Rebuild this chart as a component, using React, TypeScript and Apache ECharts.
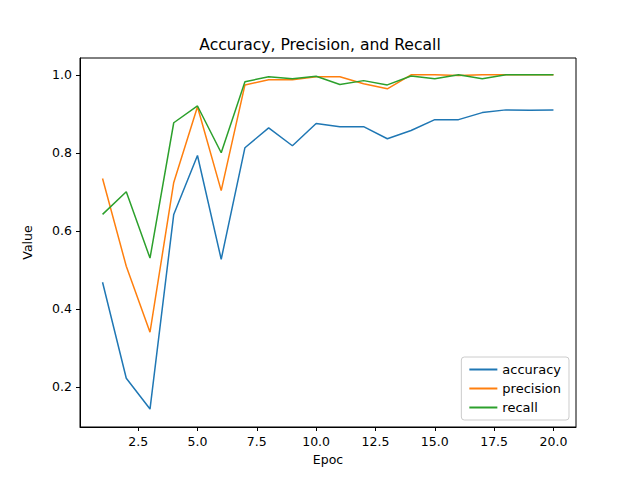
import React, { useEffect, useRef } from 'react';
import * as echarts from 'echarts';

const epochs = Array.from({ length: 20 }, (_, i) => i + 1);
const accuracy = [0.468, 0.222, 0.143, 0.642, 0.793, 0.527, 0.813, 0.864, 0.818, 0.875, 0.867, 0.867, 0.836, 0.857, 0.885, 0.885, 0.903, 0.91, 0.909, 0.91];
const precision = [0.734, 0.509, 0.34, 0.724, 0.918, 0.703, 0.974, 0.987, 0.987, 0.995, 0.995, 0.977, 0.964, 1.0, 1.0, 0.998, 1.0, 1.0, 1.0, 1.0];
const recall = [0.642, 0.7, 0.53, 0.877, 0.92, 0.8, 0.982, 0.995, 0.99, 0.996, 0.975, 0.985, 0.974, 0.997, 0.99, 1.0, 0.99, 1.0, 1.0, 1.0];
const xTicks = [2.5, 5, 7.5, 10, 12.5, 15, 17.5, 20];
const yTicks = [0.2, 0.4, 0.6, 0.8, 1.0];

const font = 'DejaVu Sans';

const App: React.FC = () => {
  const ref = useRef<HTMLDivElement>(null);

  useEffect(() => {
    if (!ref.current) return;
    const chart = echarts.init(ref.current, undefined, { renderer: 'svg' });
    const mk = (name: string, data: number[], color: string) => ({
      name,
      type: 'line',
      data: epochs.map((e, i) => [e, data[i]]),
      showSymbol: false,
      lineStyle: { color, width: 1.5 },
      itemStyle: { color },
    });
    chart.setOption({
      animation: false,
      title: {
        text: 'Accuracy, Precision, and Recall',
        left: 'center',
        top: 24,
        textStyle: { fontFamily: font, fontSize: 15.6, fontWeight: 'normal', color: '#000' },
      },
      grid: { left: 72, right: 56, top: 50, bottom: 45, show: true, borderColor: '#000', borderWidth: 1 },
      legend: {
        orient: 'vertical',
        right: 63,
        bottom: 52,
        backgroundColor: '#fff',
        borderColor: '#ccc',
        borderWidth: 1,
        borderRadius: 3,
        padding: [6, 8],
        itemGap: 6,
        icon: 'rect',
        itemWidth: 28,
        itemHeight: 2,
        textStyle: { fontFamily: font, fontSize: 13, color: '#000' },
      },
      xAxis: {
        type: 'value',
        min: 0.05,
        max: 20.95,
        name: 'Epoc',
        nameLocation: 'middle',
        nameGap: 25,
        nameTextStyle: { fontFamily: font, fontSize: 12.5, color: '#000' },
        axisLine: { show: true, onZero: false, lineStyle: { color: '#000' } },
        axisTick: { show: true, customValues: xTicks, length: 4, lineStyle: { color: '#000' } },
        axisLabel: { customValues: xTicks, fontFamily: font, fontSize: 12.5, color: '#000', formatter: (v: number) => v.toFixed(1) },
        splitLine: { show: false },
      },
      yAxis: {
        type: 'value',
        min: 0.097,
        max: 1.043,
        name: 'Value',
        nameLocation: 'middle',
        nameGap: 46,
        nameTextStyle: { fontFamily: font, fontSize: 12.5, color: '#000' },
        axisLine: { show: true, lineStyle: { color: '#000' } },
        axisTick: { show: true, customValues: yTicks, length: 4, lineStyle: { color: '#000' } },
        axisLabel: { customValues: yTicks, fontFamily: font, fontSize: 12.5, color: '#000', formatter: (v: number) => v.toFixed(1) },
        splitLine: { show: false },
      },
      series: [
        mk('accuracy', accuracy, '#1f77b4'),
        mk('precision', precision, '#ff7f0e'),
        mk('recall', recall, '#2ca02c'),
      ],
    });
    return () => chart.dispose();
  }, []);

  return <div ref={ref} style={{ width: 624, height: 464 }} />;
};

export default App;
